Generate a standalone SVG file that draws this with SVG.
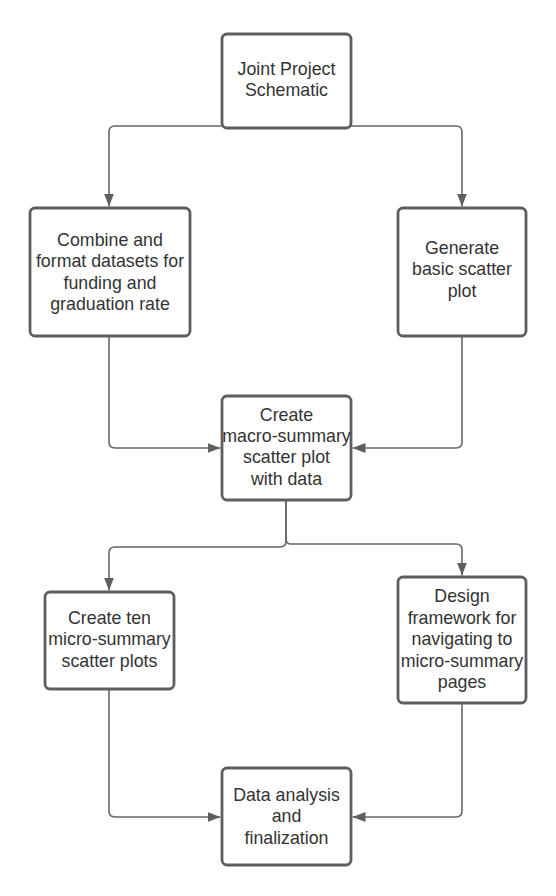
<svg xmlns="http://www.w3.org/2000/svg" width="556" height="896" viewBox="0 0 556 896">
<style>
.box{fill:#fff;stroke:#5e5e5e;stroke-width:2.8}
.lbl{font-family:"Liberation Sans",Arial,sans-serif;font-size:17.8px;fill:#333;text-anchor:middle}
.con{fill:none;stroke:#666;stroke-width:1.6}
</style>
<defs>
<marker id="arr" markerUnits="userSpaceOnUse" markerWidth="14" markerHeight="10" refX="13" refY="5" orient="auto">
<path d="M0,0 L13,5 L0,10 z" fill="#5e5e5e"/>
</marker>
</defs>
<rect width="556" height="896" fill="#fff"/>
<g id="connectors">
<path class="con" d="M222,126 H115 Q109,126 109,132 V206.5" marker-end="url(#arr)"/>
<path class="con" d="M351,126 H456 Q462,126 462,132 V206.5" marker-end="url(#arr)"/>
<path class="con" d="M109,336 V442 Q109,448 115,448 H220.5" marker-end="url(#arr)"/>
<path class="con" d="M462,336 V442 Q462,448 456,448 H352.5" marker-end="url(#arr)"/>
<path class="con" d="M286,500 V541 Q286,547 280,547 H115 Q109,547 109,553 V590.5" marker-end="url(#arr)"/>
<path class="con" d="M286,500 V539 Q286,544 291,544 H456 Q462,544 462,550 V575.5" marker-end="url(#arr)"/>
<path class="con" d="M109,689 V811 Q109,817 115,817 H220.5" marker-end="url(#arr)"/>
<path class="con" d="M462,703 V811 Q462,817 456,817 H352.5" marker-end="url(#arr)"/>
</g>
<g id="n1">
<rect class="box" x="222" y="34" width="129" height="94" rx="5"/>
<text class="lbl" x="286.5" y="75">Joint Project</text>
<text class="lbl" x="286.5" y="96">Schematic</text>
</g>
<g id="n2">
<rect class="box" x="30" y="208" width="160" height="128" rx="5"/>
<text class="lbl" x="110" y="246">Combine and</text>
<text class="lbl" x="110" y="267.4">format datasets for</text>
<text class="lbl" x="110" y="288.8">funding and</text>
<text class="lbl" x="110" y="310.2">graduation rate</text>
</g>
<g id="n3">
<rect class="box" x="398" y="208" width="128" height="128" rx="5"/>
<text class="lbl" x="462" y="254">Generate</text>
<text class="lbl" x="462" y="275.4">basic scatter</text>
<text class="lbl" x="462" y="296.8">plot</text>
</g>
<g id="n4">
<rect class="box" x="222" y="396" width="129" height="104" rx="5"/>
<text class="lbl" x="286.5" y="420.5">Create</text>
<text class="lbl" x="286.5" y="441.9">macro-summary</text>
<text class="lbl" x="286.5" y="463.3">scatter plot</text>
<text class="lbl" x="286.5" y="484.7">with data</text>
</g>
<g id="n5">
<rect class="box" x="45" y="592" width="129" height="97" rx="5"/>
<text class="lbl" x="109.5" y="623.7">Create ten</text>
<text class="lbl" x="109.5" y="645.1">micro-summary</text>
<text class="lbl" x="109.5" y="666.5">scatter plots</text>
</g>
<g id="n6">
<rect class="box" x="398" y="577" width="128" height="126" rx="5"/>
<text class="lbl" x="462" y="602.4">Design</text>
<text class="lbl" x="462" y="623.8">framework for</text>
<text class="lbl" x="462" y="645.2">navigating to</text>
<text class="lbl" x="462" y="666.6">micro-summary</text>
<text class="lbl" x="462" y="688">pages</text>
</g>
<g id="n7">
<rect class="box" x="222" y="768" width="129" height="97" rx="5"/>
<text class="lbl" x="286.5" y="800.7">Data analysis</text>
<text class="lbl" x="286.5" y="822.1">and</text>
<text class="lbl" x="286.5" y="843.5">finalization</text>
</g>
</svg>
